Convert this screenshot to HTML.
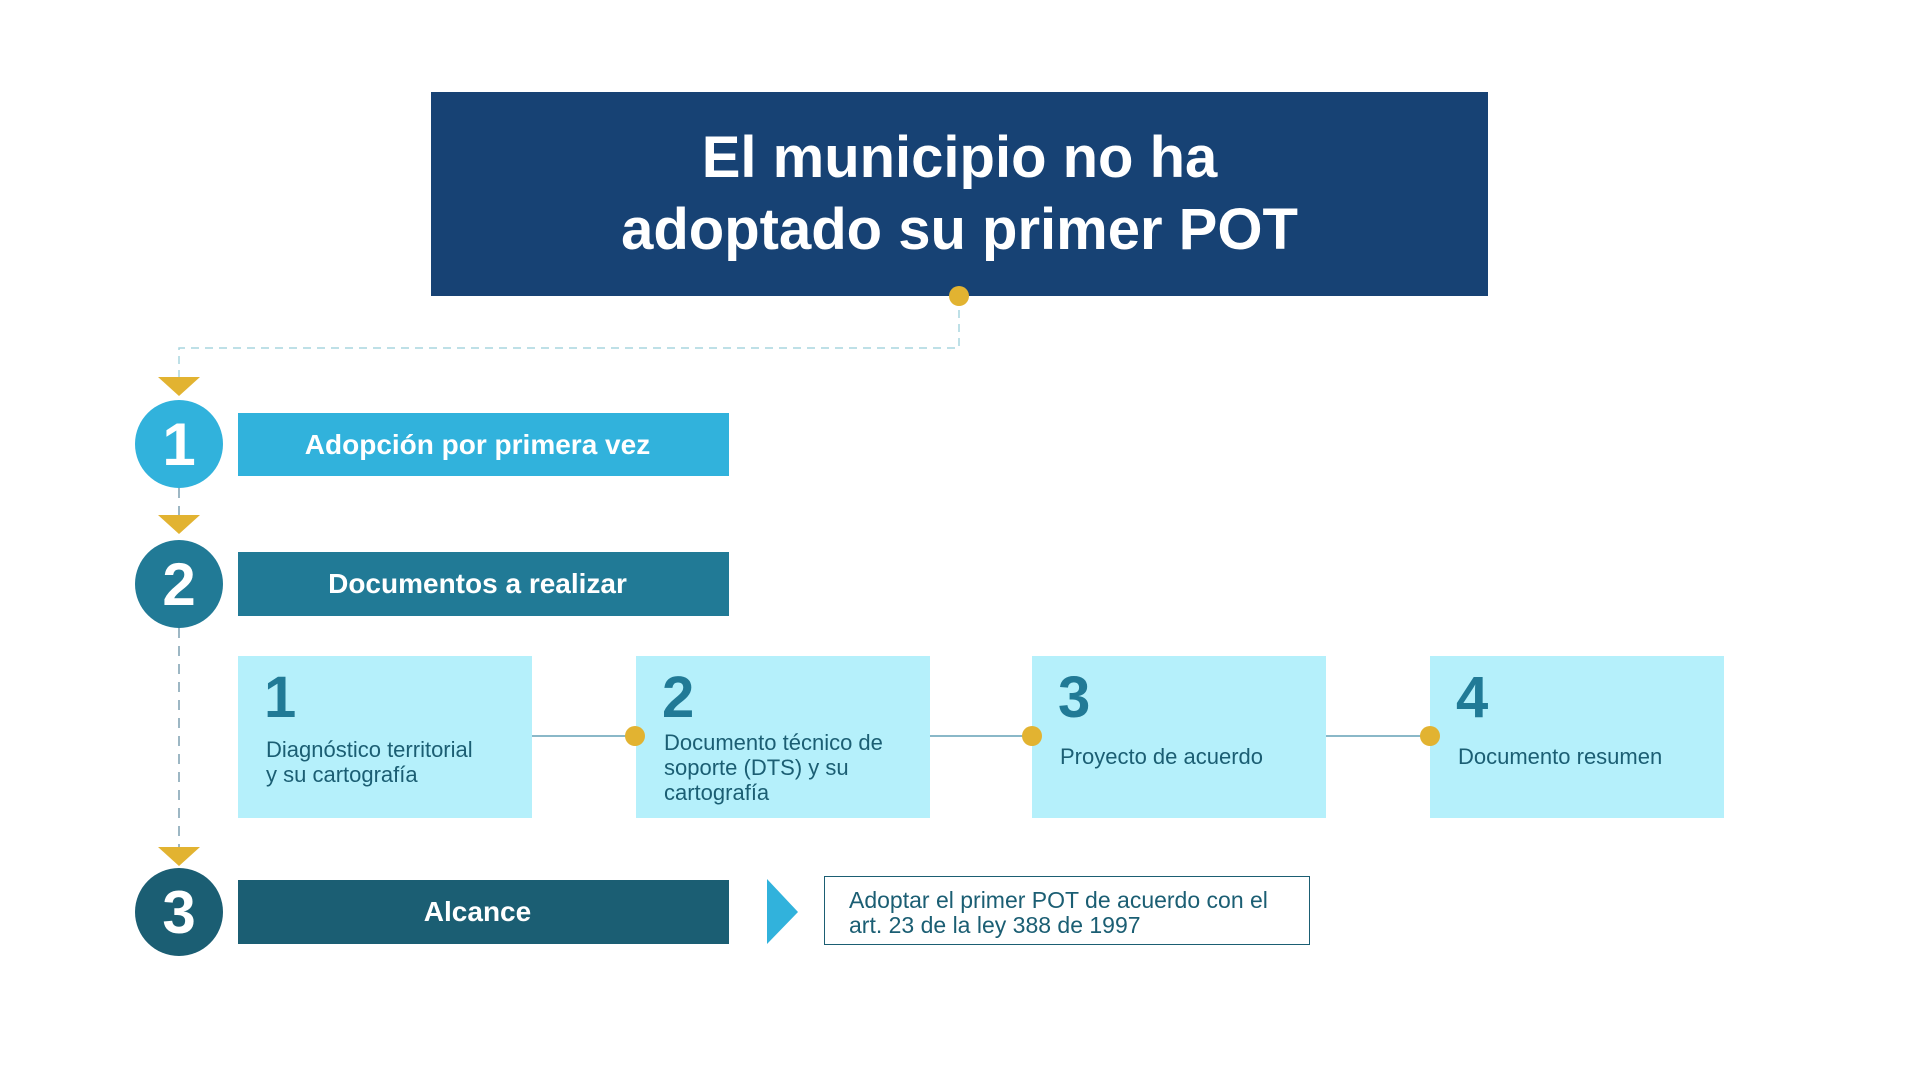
<!DOCTYPE html>
<html><head><meta charset="utf-8"><style>
body{margin:0;width:1920px;height:1080px;background:#fff;position:relative;overflow:hidden;font-family:"Liberation Sans",sans-serif}
div{position:absolute;box-sizing:border-box}
.t{color:#fff;font-weight:bold;display:flex;align-items:center;justify-content:center}
.c{border-radius:50%;color:#fff;font-weight:bold;font-size:60px;display:flex;align-items:center;justify-content:center;width:88px;height:88px;left:135px}
.card{background:#b5f0fb;top:656px;width:294px;height:162px;color:#1b5e73}
.card .n{left:26px;top:8px;font-size:58px;font-weight:bold;color:#217a96}
.card .x{left:28px;font-size:22px;line-height:25px}
.dot{width:20px;height:20px;border-radius:50%;background:#e2b331}
</style></head><body>
<svg width="1920" height="1080" style="position:absolute;left:0;top:0">
<path d="M959 296 V348 H179 V380" fill="none" stroke="#a9d6df" stroke-width="1.5" stroke-dasharray="8,6"/>
<path d="M179 488 V520 M179 628 V850" fill="none" stroke="#7d9fb0" stroke-width="1.5" stroke-dasharray="10,8"/>
<path d="M531 736 H1430" stroke="#8ab8c8" stroke-width="2"/>
<polygon points="158,377 200,377 179,396" fill="#e2b331"/>
<polygon points="158,515 200,515 179,534" fill="#e2b331"/>
<polygon points="158,847 200,847 179,866" fill="#e2b331"/>
<polygon points="767,879 798,912 767,944" fill="#31b2dc"/>
</svg>
<div class="t" style="left:431px;top:92px;width:1057px;height:204px;background:#174274;font-size:58px;line-height:72px;text-align:center">El municipio no ha<br>adoptado su primer POT</div>
<div class="dot" style="left:949px;top:286px"></div>
<div class="c" style="top:400px;background:#31b2dc">1</div>
<div class="t" style="left:238px;top:413px;width:491px;height:63px;background:#31b2dc;font-size:28px;padding-right:12px">Adopción por primera vez</div>
<div class="c" style="top:540px;background:#217a96">2</div>
<div class="t" style="left:238px;top:552px;width:491px;height:64px;background:#217a96;font-size:28px;padding-right:12px">Documentos a realizar</div>
<div class="card" style="left:238px"><div class="n">1</div><div class="x" style="top:81px">Diagnóstico territorial<br>y su cartografía</div></div>
<div class="card" style="left:636px"><div class="n">2</div><div class="x" style="top:74px">Documento técnico de<br>soporte (DTS) y su<br>cartografía</div></div>
<div class="card" style="left:1032px"><div class="n">3</div><div class="x" style="top:88px">Proyecto de acuerdo</div></div>
<div class="card" style="left:1430px"><div class="n">4</div><div class="x" style="top:88px">Documento resumen</div></div>
<div class="dot" style="left:625px;top:726px"></div>
<div class="dot" style="left:1022px;top:726px"></div>
<div class="dot" style="left:1420px;top:726px"></div>
<div class="c" style="top:868px;background:#1b5e73">3</div>
<div class="t" style="left:238px;top:880px;width:491px;height:64px;background:#1b5e73;font-size:28px;padding-right:12px">Alcance</div>
<div style="left:824px;top:876px;width:486px;height:69px;border:1.5px solid #1b5e73;color:#1b5e73;font-size:23px;line-height:25px;padding:11px 0 0 24px">Adoptar el primer POT de acuerdo con el<br>art. 23 de la ley 388 de 1997</div>
</body></html>
